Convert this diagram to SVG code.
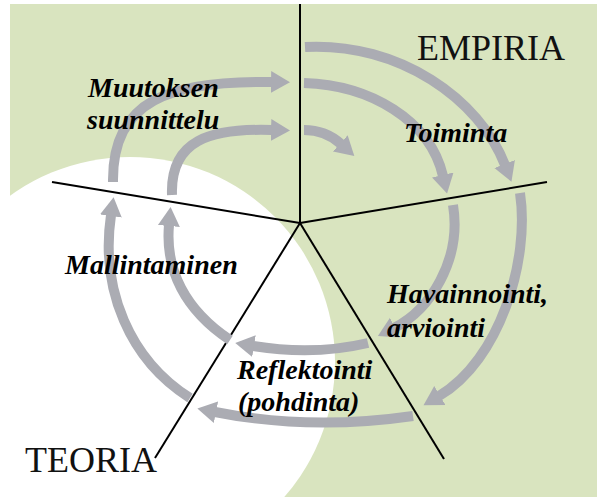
<svg xmlns="http://www.w3.org/2000/svg" width="597" height="497" viewBox="0 0 597 497">
  <style>
    .lbl { font-family: "Liberation Serif", "Times New Roman", serif; font-size: 28px; font-weight: bold; font-style: italic; fill: #000; }
    .big { font-family: "Liberation Serif", "Times New Roman", serif; font-size: 36px; fill: #111; }
    .axis { stroke: #000; stroke-width: 2; fill: none; }
    .arr { stroke: #abacb3; stroke-width: 10; fill: none; marker-end: url(#head); }
  </style>
  <defs>
    <marker id="head" markerUnits="userSpaceOnUse" markerWidth="20" markerHeight="24" viewBox="0 0 20 24" refX="1" refY="12" orient="auto">
      <path d="M0,1 L19,12 L0,23 z" fill="#abacb3"/>
    </marker>
  </defs>
  <rect x="0" y="0" width="597" height="497" fill="#ffffff"/>
  <rect x="10" y="4" width="587" height="493" fill="#d9e4bf"/>
  <circle cx="130" cy="362" r="205" fill="#ffffff"/>

  <g id="sector-lines">
    <line class="axis" x1="300" y1="4" x2="300" y2="223"/>
    <line class="axis" x1="300" y1="223" x2="547" y2="182"/>
    <line class="axis" x1="300" y1="223" x2="52" y2="182"/>
    <line class="axis" x1="300" y1="223" x2="444" y2="459"/>
    <line class="axis" x1="300" y1="223" x2="155" y2="458"/>
  </g>

  <g id="connectors">
    <path class="arr" d="M305,47 C400,42 480,100 505,165"/>
    <path class="arr" d="M304,83 C370,85 430,120 443,176"/>
    <path class="arr" d="M304,130 C318,130 330,134 341,144"/>
    <path class="arr" d="M520,193 C530,260 500,360 439,396"/>
    <path class="arr" d="M453,205 C462,260 430,310 394,328"/>
    <path class="arr" d="M413,416 C330,428 265,422 215,412"/>
    <path class="arr" d="M368,343 C330,352 290,352 253,346"/>
    <path class="arr" d="M190,398 C130,360 100,290 111,215"/>
    <path class="arr" d="M230,340 C185,310 165,270 169,225"/>
    <path class="arr" d="M113,182 C112,100 170,80 272,82"/>
    <path class="arr" d="M172,195 C170,140 210,128 272,130"/>
  </g>

  <g id="empiria"><text class="big" x="417" y="60">EMPIRIA</text></g>
  <g id="teoria"><text class="big" x="25" y="472">TEORIA</text></g>
  <g id="muutoksen-suunnittelu">
    <text class="lbl" x="88" y="97">Muutoksen</text>
    <text class="lbl" x="87" y="129">suunnittelu</text>
  </g>
  <g id="toiminta"><text class="lbl" x="404" y="142">Toiminta</text></g>
  <g id="havainnointi">
    <text class="lbl" x="387" y="303">Havainnointi,</text>
    <text class="lbl" x="387" y="337">arviointi</text>
  </g>
  <g id="reflektointi">
    <text class="lbl" x="237" y="379">Reflektointi</text>
    <text class="lbl" x="238" y="411">(pohdinta)</text>
  </g>
  <g id="mallintaminen"><text class="lbl" x="65" y="274">Mallintaminen</text></g>
</svg>
